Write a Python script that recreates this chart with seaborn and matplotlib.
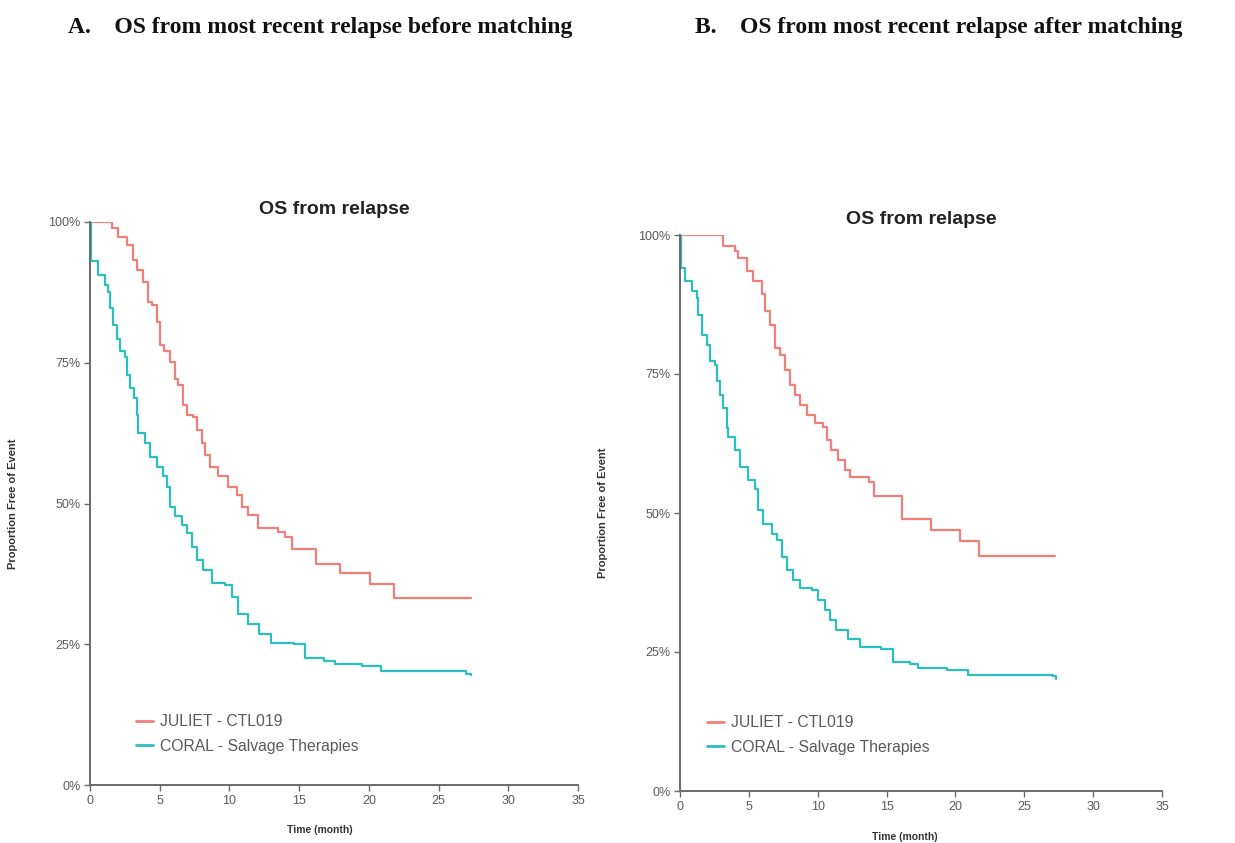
import matplotlib
matplotlib.use("Agg")
import matplotlib.pyplot as plt
import seaborn as sns
import pandas as pd
from matplotlib.ticker import FuncFormatter

sns.set_theme(style="white")
plt.rcParams['font.family'] = ['Liberation Sans', 'DejaVu Sans']

# ---------------- data ----------------
groups = ["JULIET - CTL019", "CORAL - Salvage Therapies"]
colors = ["#EF7F77", "#2BBFC0"]

a_juliet_t = [0, 1.55, 2.03, 2.63, 3.1, 3.35, 3.83, 4.19, 4.42, 4.78, 5.02, 5.33, 5.74, 6.1, 6.34,
              6.7, 6.93, 7.41, 7.65, 8.0, 8.25, 8.6, 9.2, 9.92, 10.52, 10.88, 11.36, 12.07, 13.5,
              14.0, 14.5, 16.2, 17.9, 20.1, 21.8, 27.3]
a_juliet_s = [100, 98.9, 97.4, 95.9, 93.3, 91.5, 89.4, 85.8, 85.3, 82.3, 78.2, 77, 75.2, 72.2, 71.0,
              67.5, 65.7, 65.4, 63.1, 60.7, 58.6, 56.5, 54.8, 53.0, 51.5, 49.4, 48.0, 45.6, 45.0,
              44.1, 42, 39.3, 37.6, 35.7, 33.3, 33.3]

a_coral_t = [0, 0.05, 0.6, 1.08, 1.31, 1.43, 1.67, 1.91, 2.15, 2.51, 2.63, 2.87, 3.18, 3.35, 3.47,
             3.95, 4.3, 4.78, 5.26, 5.5, 5.74, 6.1, 6.58, 6.94, 7.3, 7.65, 8.13, 8.73, 9.68, 10.16,
             10.6, 11.3, 12.1, 13.0, 14.6, 15.4, 16.8, 17.6, 19.5, 20.9, 27.0, 27.3]
a_coral_s = [100, 93, 90.6, 88.8, 87.6, 84.7, 81.7, 79.3, 77, 76.1, 72.8, 70.5, 68.7, 65.7, 62.5,
             60.7, 58.3, 56.5, 54.8, 53, 49.4, 47.7, 46.2, 44.7, 42.3, 40, 38.2, 35.8, 35.5, 33.4,
             30.4, 28.6, 26.8, 25.3, 25, 22.6, 22, 21.5, 21.2, 20.2, 19.8, 19.6]

b_juliet_t = [0, 3.15, 4.0, 4.24, 4.84, 5.33, 5.93, 6.17, 6.54, 6.9, 7.26, 7.63, 7.99, 8.35, 8.7,
              9.2, 9.8, 10.4, 10.65, 11.0, 11.5, 11.98, 12.35, 13.7, 14.1, 16.1, 18.2, 20.3, 21.7,
              27.2]
b_juliet_s = [100, 98, 97.1, 95.9, 93.5, 91.7, 89.3, 86.3, 83.9, 79.7, 78.5, 75.8, 73.1, 71.3, 69.5,
              67.7, 66.1, 65.5, 63.1, 61.3, 59.5, 57.7, 56.5, 55.5, 53.1, 48.9, 47, 45, 42.3, 42.3]

b_coral_t = [0, 0.05, 0.36, 0.85, 1.21, 1.33, 1.57, 1.94, 2.18, 2.54, 2.66, 2.9, 3.15, 3.39, 3.5,
             4.0, 4.36, 4.96, 5.45, 5.69, 6.05, 6.66, 7.02, 7.38, 7.75, 8.23, 8.71, 9.56, 10.0,
             10.5, 10.9, 11.3, 12.2, 13.1, 14.6, 15.5, 16.7, 17.3, 19.4, 20.9, 27.1, 27.3]
b_coral_s = [100, 94.1, 91.7, 89.9, 88.7, 85.7, 82.1, 80.3, 77.3, 76.7, 73.7, 71.3, 68.9, 65.3,
             63.7, 61.3, 58.3, 55.9, 54.4, 50.5, 48.1, 46.3, 45.1, 42.1, 39.7, 37.9, 36.5, 36.2,
             34.4, 32.6, 30.8, 28.9, 27.4, 25.9, 25.6, 23.2, 22.9, 22.2, 21.8, 20.8, 20.6, 20.2]

x_ticks = [0, 5, 10, 15, 20, 25, 30, 35]
y_ticks = [0, 25, 50, 75, 100]

panel_titles = ["A.    OS from most recent relapse before matching",
                "B.    OS from most recent relapse after matching"]
plot_title = "OS from relapse"
x_label = "Time (month)"
y_label = "Proportion Free of Event"


def make_df(jt, js, ct, cs):
    d1 = pd.DataFrame({"time": jt, "surv": js, "group": groups[0]})
    d2 = pd.DataFrame({"time": ct, "surv": cs, "group": groups[1]})
    return pd.concat([d1, d2], ignore_index=True)


dfs = [make_df(a_juliet_t, a_juliet_s, a_coral_t, a_coral_s),
       make_df(b_juliet_t, b_juliet_s, b_coral_t, b_coral_s)]

W, H = 1235, 843
fig = plt.figure(figsize=(W / 100, H / 100), dpi=100)

# axes boxes in pixels: left, right, top, bottom
boxes = [(90, 578, 222, 785), (680, 1162, 235, 791)]
xlab_x = [320, 905]
xlab_off = [40, 41]
title_off = [13, 16]
leg_x = [136, 707]
leg_top = [714, 715]
gray = "#5a5a5a"

for i, (df, (l, r, t, b)) in enumerate(zip(dfs, boxes)):
    ax = fig.add_axes([l / W, 1 - b / H, (r - l) / W, (b - t) / H])
    sns.lineplot(data=df, x="time", y="surv", hue="group", hue_order=groups,
                 palette=colors, drawstyle="steps-post", estimator=None,
                 linewidth=1.6, ax=ax, legend=True)
    ax.set_xlim(0, 35)
    ax.set_ylim(0, 100)
    ax.set_xticks(x_ticks)
    ax.set_yticks(y_ticks)
    ax.yaxis.set_major_formatter(FuncFormatter(lambda v, p: f"{int(v)}%"))
    for s in ["top", "right"]:
        ax.spines[s].set_visible(False)
    for s in ["left", "bottom"]:
        ax.spines[s].set_color("#6a6a6a")
        ax.spines[s].set_linewidth(1.4)
    ax.tick_params(axis="both", which="both", direction="out", length=4, width=1,
                   color="#6a6a6a", labelsize=9, labelcolor=gray, pad=3,
                   left=True, bottom=True)
    ax.set_xlabel(x_label, fontsize=7.5, fontweight="bold", color="#333333")
    ax.set_ylabel(y_label, fontsize=8, fontweight="bold", color="#333333")
    wpx, hpx = r - l, b - t
    ax.yaxis.set_label_coords(-72 / wpx, 0.5)
    ax.xaxis.set_label_coords((xlab_x[i] - l) / wpx, -xlab_off[i] / hpx)
    ax.text(0.5, 1 + title_off[i] / hpx, plot_title, transform=ax.transAxes, ha="center",
            va="center", fontsize=14, fontweight="bold", color="#222222")
    leg = ax.legend(loc="upper left",
                    bbox_to_anchor=((leg_x[i] - l) / wpx, (b - leg_top[i]) / hpx),
                    frameon=False, fontsize=11.3, handlelength=1.1, handletextpad=0.4,
                    labelspacing=0.62, borderaxespad=0, borderpad=0)
    for txt in leg.get_texts():
        txt.set_color(gray)
    for ln in leg.get_lines():
        ln.set_linewidth(2)

for i, xpx in enumerate([68, 695]):
    fig.text(xpx / W, 1 - 27 / H, panel_titles[i], ha="left", va="center",
             fontsize=17, fontweight="bold", family=["Liberation Serif", "DejaVu Serif"],
             color="#111111")

fig.savefig("out.png", dpi=100, facecolor="white")
